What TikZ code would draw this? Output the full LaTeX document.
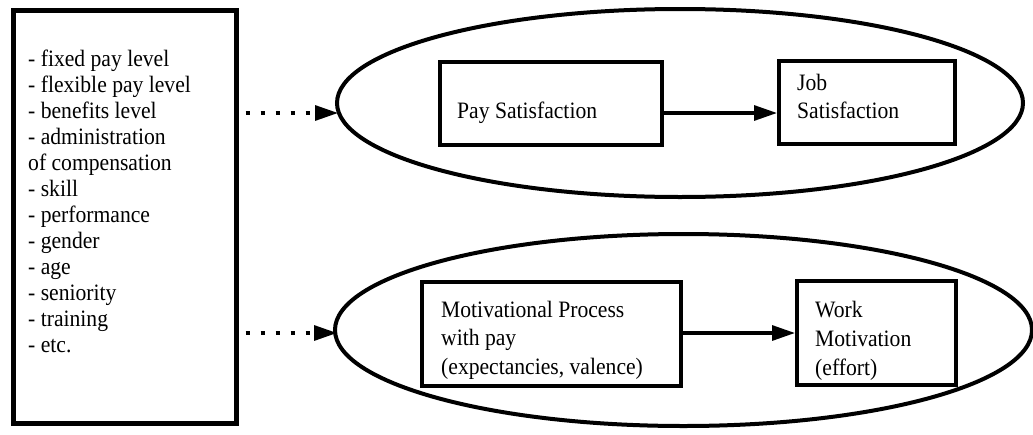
\documentclass[tikz,border=0pt]{standalone}
\usepackage{fontspec}
\setmainfont{Liberation Serif}[FakeStretch=0.92]
\usetikzlibrary{arrows.meta,shapes.geometric}
\tikzset{
  box/.style={draw, line width=4pt, inner sep=0pt, rectangle},
  oval/.style={draw, ellipse, line width=4pt, inner sep=0pt},
  txt/.style={anchor=base west, inner sep=0pt, font=\fontsize{23.5pt}{26pt}\selectfont},
  solidarrow/.style={line width=3.2pt, -{Triangle[length=23pt,width=15pt]}},
  dotarrow/.style={line width=3.2pt, dash pattern=on 4.5pt off 10.5pt, -{Triangle[length=23pt,width=15pt]}}
}
\begin{document}
\begin{tikzpicture}[x=1pt,y=-1pt]
\useasboundingbox (0,0) rectangle (1033,434);
% left box
\node[box, line width=5pt, minimum width=223pt, minimum height=413pt] (L) at (124.5,216.5) {};
\foreach \t [count=\k from 0] in {- fixed pay level,- flexible pay level,- benefits level,- administration,of compensation,- skill,- performance,- gender,- age,- seniority,- training,- etc.}{
  \node[txt] (l\k) at (28,{66+26*\k}) {\t};
}
% ellipses
\node[oval, minimum width=686pt, minimum height=188pt] (E1) at (680,103) {};
\node[oval, minimum width=697pt, minimum height=192pt] (E2) at (683.5,330) {};
% upper boxes
\node[box, minimum width=222pt, minimum height=83pt] (Pay) at (551,103.5) {};
\node[box, minimum width=176pt, minimum height=83pt] (Job) at (867,102.5) {};
\node[txt] (payt) at (457,118) {Pay Satisfaction};
\node[txt] (jobt1) at (797,90) {Job};
\node[txt] (jobt2) at (797,118) {Satisfaction};
% lower boxes
\node[box, minimum width=259pt, minimum height=104pt] (Mot) at (551.5,334) {};
\node[box, minimum width=159pt, minimum height=104pt] (Work) at (876.5,333) {};
\node[txt] (mott1) at (441,317) {Motivational Process};
\node[txt] (mott2) at (441,345) {with pay};
\node[txt] (mott3) at (441,374) {(expectancies, valence)};
\node[txt] (workt1) at (815,317) {Work};
\node[txt] (workt2) at (815,346) {Motivation};
\node[txt] (workt3) at (815,375) {(effort)};
% connectors
\coordinate (u) at (0,113);
\coordinate (d) at (0,333);
\coordinate (p1) at (338,113);
\coordinate (p2) at (337,333);
\draw[dotarrow] ([xshift=7pt]L.east |- p1) -- (p1);
\draw[dotarrow] ([xshift=7pt]L.east |- p2) -- (p2);
\draw[solidarrow] (Pay.east |- u) -- (Job.west |- u);
\draw[solidarrow] (Mot.east |- d) -- (Work.west |- d);
\end{tikzpicture}
\end{document}
